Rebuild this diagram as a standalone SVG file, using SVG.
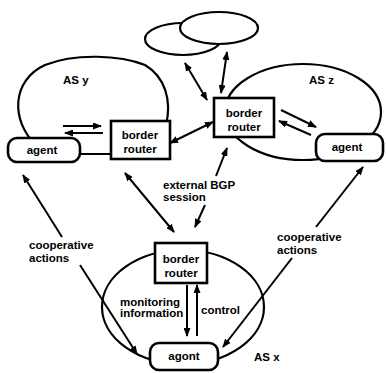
<svg xmlns="http://www.w3.org/2000/svg" width="386" height="373" viewBox="0 0 386 373">
<defs>
<style>
.as{fill:none;stroke:#000;stroke-width:2.2}
.cloud{fill:#fff;stroke:#000;stroke-width:2.2}
.box{fill:#fff;stroke:#000;stroke-width:2.6}
.ln{fill:none;stroke:#000;stroke-width:2}
.t{font-family:"Liberation Sans",Arial,sans-serif;font-weight:bold;font-size:11.5px;fill:#000}
.c{text-anchor:middle}
.a1{marker-end:url(#ah)}
.a2{marker-start:url(#ah);marker-end:url(#ah)}
.a0{marker-start:url(#ah)}
</style>
<marker id="ah" markerUnits="userSpaceOnUse" markerWidth="9" markerHeight="7" refX="8" refY="3.5" orient="auto-start-reverse">
<path d="M0,0 L9,3.5 L0,7 z" fill="#000"/>
</marker>
</defs>
<g id="as-y"><path class="as" d="M36,145 C10,120 12,80 45,65 C75,53 120,55 145,65 C165,77 172,100 166,125"/><text class="t" x="63" y="84">AS y</text></g>
<g id="as-z"><ellipse class="as" cx="303" cy="112" rx="78" ry="48"/><text class="t" x="309" y="84">AS z</text></g>
<g id="as-x"><ellipse class="as" cx="183" cy="307" rx="81" ry="57"/><text class="t" x="254" y="361">AS x</text></g>
<g id="other-as"><ellipse class="cloud" cx="183" cy="39" rx="38" ry="16"/><ellipse class="cloud" cx="219" cy="28" rx="39" ry="16"/></g>
<g id="connectors">
<line class="ln" x1="80" y1="154" x2="112" y2="154"/>
<line class="ln a1" x1="63" y1="126" x2="101" y2="126"/>
<line class="ln a1" x1="103" y1="133" x2="65" y2="133"/>
<line class="ln a1" x1="281" y1="110" x2="316" y2="127"/>
<line class="ln a1" x1="311" y1="135" x2="279" y2="121"/>
<line class="ln a2" x1="185" y1="63" x2="207" y2="100"/>
<line class="ln a2" x1="227" y1="52" x2="221" y2="93"/>
<line class="ln a2" x1="170" y1="143" x2="213" y2="122"/>
<line class="ln a2" x1="125" y1="173" x2="174" y2="232"/>
<line class="ln a0" x1="227" y1="148" x2="216" y2="176"/>
<line class="ln a1" x1="205" y1="205" x2="195" y2="227"/>
<line class="ln a1" x1="187" y1="285" x2="187" y2="336"/>
<line class="ln a1" x1="197" y1="336" x2="197" y2="285"/>
<line class="ln a0" x1="23" y1="175" x2="62" y2="237"/>
<line class="ln a1" x1="80" y1="265" x2="137" y2="354"/>
<line class="ln a0" x1="363" y1="167" x2="316" y2="227"/>
<line class="ln a1" x1="292" y1="258" x2="223" y2="347"/>
</g>
<g id="router-y"><rect class="box" x="111" y="121" width="59" height="38"/><text class="t c" x="140" y="139">border</text><text class="t c" x="140" y="153">router</text></g>
<g id="router-z"><rect class="box" x="214" y="98" width="60" height="39"/><text class="t c" x="244" y="117">border</text><text class="t c" x="244" y="131">router</text></g>
<g id="router-x"><rect class="box" x="155" y="243" width="52" height="40"/><text class="t c" x="181" y="263">border</text><text class="t c" x="181" y="277">router</text></g>
<g id="agent-y"><rect class="box" x="8" y="138" width="72" height="24" rx="9"/><text class="t c" x="42" y="154">agent</text></g>
<g id="agent-z"><rect class="box" x="316" y="134" width="67" height="27" rx="9"/><text class="t c" x="347" y="151">agent</text></g>
<g id="agent-x"><rect class="box" x="150" y="343" width="68" height="27" rx="9"/><text class="t c" x="184" y="360">agont</text></g>
<g id="labels">
<text class="t" x="163" y="189">external BGP</text><text class="t" x="163" y="201">session</text>
<text class="t" x="29" y="249">cooperative</text><text class="t" x="29" y="262">actions</text>
<text class="t" x="277" y="241">cooperative</text><text class="t" x="277" y="254">actions</text>
<text class="t" x="120" y="306">monitoring</text><text class="t" x="120" y="317">information</text>
<text class="t" x="201" y="314">control</text>
</g>
</svg>
